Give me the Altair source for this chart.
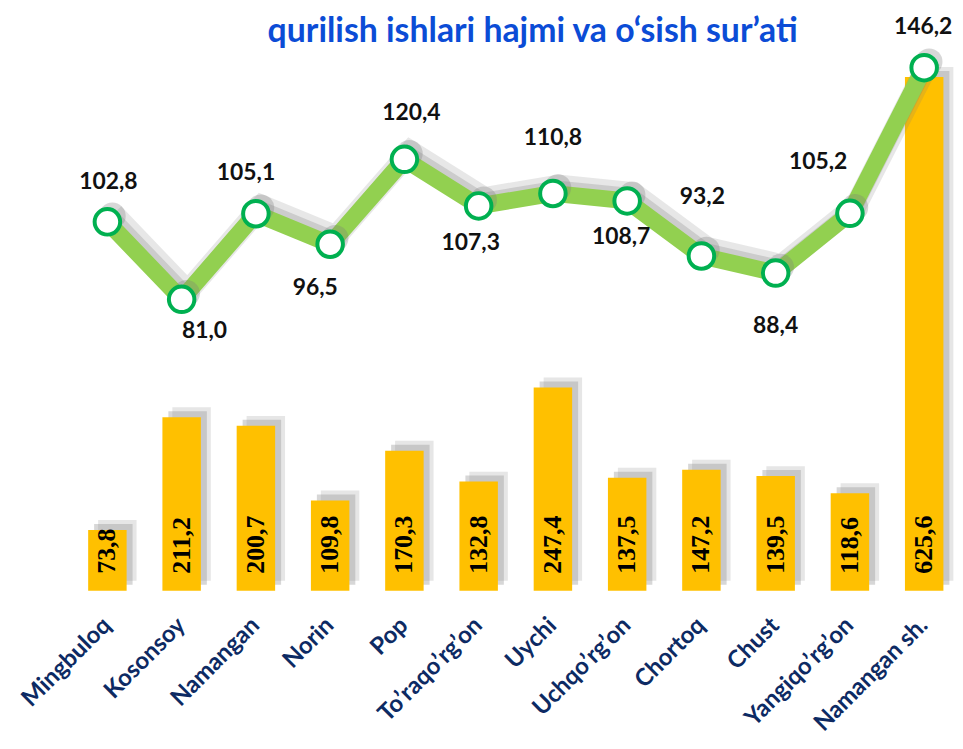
import altair as alt
import pandas as pd

# ---- data ----
title_text = "qurilish ishlari hajmi va o‘sish sur’ati"
categories = ["Mingbuloq", "Kosonsoy", "Namangan", "Norin", "Pop", "To’raqo’rg’on",
              "Uychi", "Uchqo’rg’on", "Chortoq", "Chust", "Yangiqo’rg’on", "Namangan sh."]
volume = [73.8, 211.2, 200.7, 109.8, 170.3, 132.8, 247.4, 137.5, 147.2, 139.5, 118.6, 625.6]
growth = [102.8, 81.0, 105.1, 96.5, 120.4, 107.3, 110.8, 108.7, 93.2, 88.4, 105.2, 146.2]

volume_labels = [f"{v:.1f}".replace(".", ",") for v in volume]
growth_labels = [f"{v:.1f}".replace(".", ",") for v in growth]

df = pd.DataFrame({
    "cat": categories,
    "vol": volume,
    "gr": growth,
    "vol_lbl": volume_labels,
    "gr_lbl": growth_labels,
})

# ---- style ----
# label offsets (style only) for the growth labels, px
label_dx = [1, 23, -10, -15, 7, -8, 0, -6, 1, 0, -32, -1]
label_dy = [-40, 32, -41, 44, -47, 37, -56, 36, -59, 53, -52, -41]

W, H = 878, 552
BAR_DOM = [0, 668]
LINE_DOM = [-1, 153.4]

xenc = alt.X(
    "cat:N", sort=categories,
    scale=alt.Scale(paddingInner=0.482, paddingOuter=0.116),
    axis=alt.Axis(labelAngle=-45, labelAlign="right", labelBaseline="middle",
                  labelFont="Lato", labelFontWeight="bold", labelFontSize=24,
                  labelColor="#0D2A63", domain=False, ticks=False, grid=False,
                  labelPadding=31, title=None, labelOverlap=False, labelLimit=400),
)

def ybar(field):
    return alt.Y(field, scale=alt.Scale(domain=BAR_DOM, zero=False, nice=False), axis=None)

def yline(field):
    return alt.Y(field, scale=alt.Scale(domain=LINE_DOM, zero=False, nice=False), axis=None)

base = alt.Chart(df)

bar_shadow1 = base.mark_bar(color="#8c8c8c", opacity=0.22, xOffset=10, yOffset=-10, y2Offset=-14).encode(
    x=xenc, y=ybar("vol:Q"))
bar_shadow2 = base.mark_bar(color="#8c8c8c", opacity=0.35, xOffset=6, yOffset=-6, y2Offset=-12).encode(
    x=xenc, y=ybar("vol:Q"))
bars = base.mark_bar(color="#FFC000").encode(x=xenc, y=ybar("vol:Q"))

bar_text = base.transform_calculate(zero="0").mark_text(
    angle=270, align="left", baseline="middle", dx=17,
    font="Liberation Serif", fontWeight="bold", fontSize=26, color="#000000",
).encode(x=xenc, y=ybar("zero:Q"), text="vol_lbl:N")

line_shadow1 = base.transform_window(idx="row_number()").mark_line(
    color="#7a7a7a", opacity=0.18, strokeWidth=22, xOffset=6, yOffset=-8).encode(
    x=xenc, y=yline("gr:Q"), order=alt.Order("idx:Q"))
line_shadow2 = base.transform_window(idx="row_number()").mark_line(
    color="#7a7a7a", opacity=0.25, strokeWidth=16, xOffset=4, yOffset=-5).encode(
    x=xenc, y=yline("gr:Q"), order=alt.Order("idx:Q"))
line = base.transform_window(idx="row_number()").mark_line(color="#92D050", strokeWidth=17).encode(
    x=xenc, y=yline("gr:Q"), order=alt.Order("idx:Q"))
pt_shadow = base.mark_point(filled=True, color="#7a7a7a", opacity=0.3, size=720, xOffset=5, yOffset=-6).encode(
    x=xenc, y=yline("gr:Q"))
points = base.mark_point(filled=False, fill="#FFFFFF", fillOpacity=1, stroke="#00B050",
                         strokeWidth=4, size=660, opacity=1).encode(x=xenc, y=yline("gr:Q"))

label_layers = []
for c, ddx, ddy in zip(categories, label_dx, label_dy):
    label_layers.append(
        base.transform_filter(alt.datum.cat == c).mark_text(
            dx=ddx, dy=ddy, font="Lato", fontWeight="bold", fontSize=23, color="#111111",
            align="center", baseline="middle",
        ).encode(x=xenc, y=yline("gr:Q"), text="gr_lbl:N")
    )

title = alt.Chart(pd.DataFrame({"t": [title_text]})).mark_text(
    font="Lato", fontWeight="bold", fontSize=34, color="#0B4CD6",
    align="center", baseline="alphabetic",
).encode(x=alt.value(456), y=alt.value(0), text="t:N")

chart = alt.layer(
    bar_shadow1, bar_shadow2, bars, bar_text, line_shadow1, line_shadow2, line, pt_shadow, points,
    *label_layers, title
).resolve_scale(y="independent").properties(
    width=W, height=H,
    autosize=alt.AutoSizeParams(type="none"),
    padding={"left": 72, "top": 32, "right": 3, "bottom": 150},
    background="#FFFFFF",
).configure_view(stroke=None)

chart.save("out.html", embed_options={"renderer": "svg", "actions": False})
